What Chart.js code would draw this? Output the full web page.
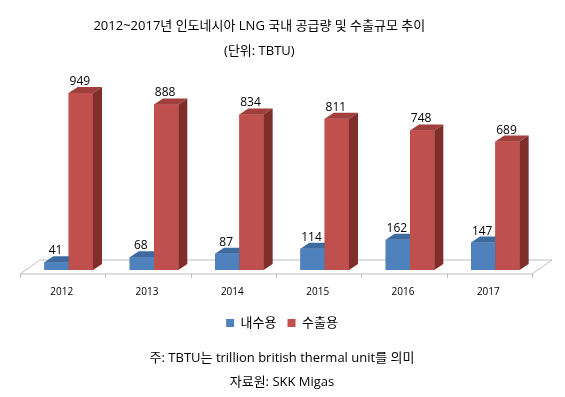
<!DOCTYPE html>
<html><head><meta charset="utf-8">
<script src="https://cdn.jsdelivr.net/npm/chart.js@4"></script>
<style>html,body{margin:0;padding:0;background:#fff}#wrap{width:565px;height:397px}</style>
</head><body><div id="wrap"><canvas id="c" width="565" height="397"></canvas></div>
<script>
const years = ['2012', '2013', '2014', '2015', '2016', '2017'];
const domestic = [41, 68, 87, 114, 162, 147];
const exported = [949, 888, 834, 811, 748, 689];
const seriesNames = ['내수용', '수출용'];
const titleLines = ['2012~2017년 인도네시아 LNG 국내 공급량 및 수출규모 추이', '(단위: TBTU)'];
const footLines = ['주: TBTU는 trillion british thermal unit를 의미', '자료원: SKK Migas'];

const FONT = "'Open Sans', 'Noto Sans CJK KR', sans-serif";
const DX = 9, DY = 6;
const faceColors = [
  { front: '#4F81BD', top: '#3E6B9F', side: '#33598A' },
  { front: '#C0504D', top: '#A03F3C', side: '#7E2F2C' }
];

const titleText = {
  id: 'titleText',
  afterDraw(chart) {
    const ctx = chart.ctx;
    ctx.save();
    ctx.font = '13px ' + FONT;
    ctx.fillStyle = '#000000';
    ctx.textAlign = 'center';
    ctx.textBaseline = 'middle';
    const cx = chart.width * 0.459;
    titleLines.forEach((t, i) => ctx.fillText(t, cx, 26 + i * 25));
    ctx.restore();
  }
};

const bar3d = {
  id: 'bar3d',
  beforeDatasetsDraw(chart) {
    const a = chart.chartArea, ctx = chart.ctx;
    const n = chart.data.labels.length;
    const fl = a.left - 6, fr = a.right - 6, fy = a.bottom + 4;
    const bx = 20, by = -14;
    ctx.save();
    ctx.beginPath();
    ctx.moveTo(fl, fy); ctx.lineTo(fr, fy); ctx.lineTo(fr + bx, fy + by); ctx.lineTo(fl + bx, fy + by); ctx.closePath();
    ctx.fillStyle = '#ffffff'; ctx.fill();
    ctx.strokeStyle = '#BFBFBF'; ctx.lineWidth = 1; ctx.stroke();
    ctx.beginPath();
    for (let k = 0; k <= n; k++) {
      const x = Math.round(fl + k * (fr - fl) / n) + 0.5;
      ctx.moveTo(x, fy); ctx.lineTo(x, fy + 4);
    }
    ctx.stroke();
    ctx.restore();
  },
  afterDatasetsDraw(chart) {
    const ctx = chart.ctx;
    const n = chart.data.labels.length;
    ctx.save();
    for (let i = 0; i < n; i++) {
      for (let d = 0; d < chart.data.datasets.length; d++) {
        const el = chart.getDatasetMeta(d).data[i];
        const { x, y, base, width } = el.getProps(['x', 'y', 'base', 'width'], true);
        const l = x - width / 2, r = x + width / 2;
        const c = faceColors[d];
        ctx.fillStyle = c.front;
        ctx.fillRect(l, y, width, base - y);
        ctx.beginPath();
        ctx.moveTo(l, y); ctx.lineTo(l + DX, y - DY); ctx.lineTo(r + DX, y - DY); ctx.lineTo(r, y); ctx.closePath();
        ctx.fillStyle = c.top; ctx.fill();
        ctx.beginPath();
        ctx.moveTo(r, y); ctx.lineTo(r + DX, y - DY); ctx.lineTo(r + DX, base - DY); ctx.lineTo(r, base); ctx.closePath();
        ctx.fillStyle = c.side; ctx.fill();
      }
    }
    ctx.font = '12px ' + FONT;
    ctx.fillStyle = '#000000';
    ctx.textAlign = 'center';
    ctx.textBaseline = 'alphabetic';
    chart.data.datasets.forEach((ds, d) => {
      chart.getDatasetMeta(d).data.forEach((el, i) => {
        const { x, y } = el.getProps(['x', 'y'], true);
        ctx.fillText(String(ds.data[i]), x - 1, y - DY - 2);
      });
    });
    ctx.restore();
  }
};

new Chart(document.getElementById('c'), {
  type: 'bar',
  data: {
    labels: years,
    datasets: [
      { label: seriesNames[0], data: domestic, backgroundColor: faceColors[0].front, borderWidth: 0 },
      { label: seriesNames[1], data: exported, backgroundColor: faceColors[1].front, borderWidth: 0 }
    ]
  },
  options: {
    responsive: false,
    animation: false,
    devicePixelRatio: 1,
    layout: { padding: { left: 26, right: 27, top: 83.5, bottom: 0 } },
    datasets: { bar: { categoryPercentage: 0.57, barPercentage: 1.0 } },
    scales: {
      x: {
        grid: { display: false, drawTicks: false },
        border: { display: false },
        ticks: { color: '#000000', font: { family: FONT, size: 10 }, padding: 16, labelOffset: -7, maxRotation: 0 },
        afterFit(scale) { scale.height = 35.5; }
      },
      y: { display: false, min: 0, max: 1000 }
    },
    plugins: {
      title: { display: false },
      subtitle: {
        display: true, position: 'bottom', text: footLines, color: '#000000',
        font: { family: FONT, size: 13, weight: 'normal', lineHeight: 24 / 13 },
        padding: { top: 6.5, bottom: 3 }
      },
      legend: {
        display: true, position: 'bottom',
        labels: { color: '#000000', font: { family: FONT, size: 13 }, boxWidth: 8, boxHeight: 8, padding: 11 }
      },
      tooltip: { enabled: false }
    }
  },
  plugins: [bar3d, titleText]
});
</script>
</body></html>
